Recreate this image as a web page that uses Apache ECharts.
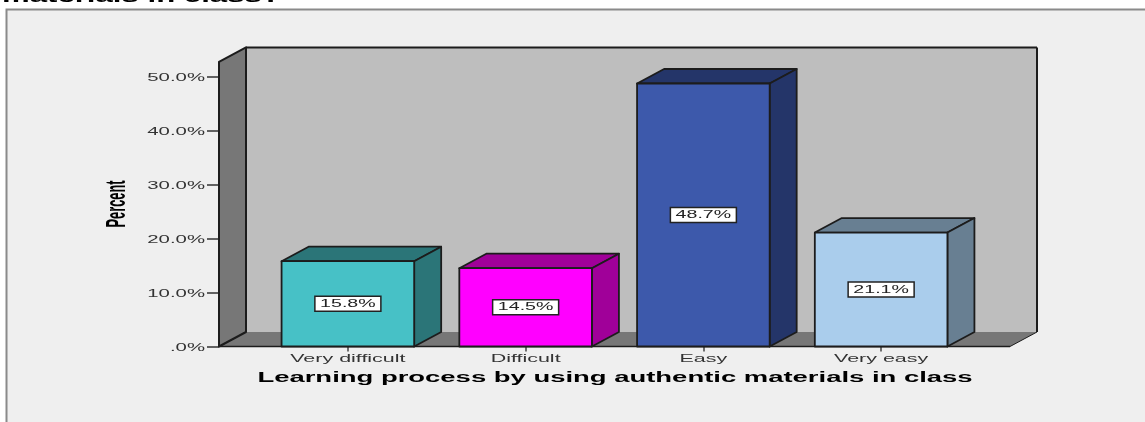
<!DOCTYPE html>
<html>
<head>
<meta charset="utf-8">
<style>html,body{margin:0;padding:0;background:#fff}#c{width:1145px;height:422px}</style>
<script src="https://cdn.jsdelivr.net/npm/echarts@6/dist/echarts.min.js"></script>
</head>
<body>
<div id="c"></div>
<script>
const categories = ['Very difficult', 'Difficult', 'Easy', 'Very easy'];
const percents = [15.8, 14.5, 48.7, 21.1];
const percentLabels = ['15.8%', '14.5%', '48.7%', '21.1%'];
const yTickValues = [0, 10, 20, 30, 40, 50];
const yTickLabels = ['.0%', '10.0%', '20.0%', '30.0%', '40.0%', '50.0%'];
const frontColors = ['#47c1c6', '#ff00ff', '#3d59ab', '#aacdec'];
const sideColors = ['#2b7578', '#a00099', '#243569', '#687f92'];
const chartTitle = 'materials in class?';
const xTitle = 'Learning process by using authentic materials in class';
const yTitle = 'Percent';

const DEPTH_X = 27, DEPTH_Y = 14.5, WALL_TOP = 52.7, WALL_OVERHANG = 40, BAR_RATIO = 0.746;
const EDGE = '#1c1c1c', WALL = '#bebebe', SHADE = '#777777';
const FONT = '11px "Liberation Sans"';
const STRETCH = 1.85, CATEGORY_STRETCH = 1.95, VALUE_STRETCH = 1.78;

function poly(points, fill, lw) {
  return {type: 'polygon', shape: {points}, style: {fill, stroke: lw ? EDGE : null, lineWidth: lw || 0, lineJoin: 'round'}};
}
function seg(a, b, lw) {
  return {type: 'line', shape: {x1: a[0], y1: a[1], x2: b[0], y2: b[1]}, style: {stroke: EDGE, lineWidth: lw || 1.5}};
}
function wideText(text, x, y, align, fill, stretch) {
  return {type: 'text', x, y, scaleX: stretch || STRETCH, style: {text, font: FONT, fill: fill || '#333', align, verticalAlign: 'middle'}};
}
function renderBackdrop(params, api) {
  const cs = params.coordSys;
  const y0 = api.coord([0, 0])[1], yTop = api.coord([0, WALL_TOP])[1];
  const L = cs.x - WALL_OVERHANG, R = cs.x + cs.width + WALL_OVERHANG;
  const bL = L + DEPTH_X, bR = R + DEPTH_X, by0 = y0 - DEPTH_Y, byT = yTop - DEPTH_Y;
  return {type: 'group', children: [
    poly([[bL, byT], [bR, byT], [bR, by0], [bL, by0]], WALL),
    poly([[L, y0], [bL, by0], [bR, by0], [R, y0]], SHADE),
    poly([[L, yTop], [bL, byT], [bL, by0], [L, y0]], SHADE, 2),
    seg([bL, byT], [bR, byT], 2),
    seg([bR, byT], [bR, by0], 2),
    seg([L, y0], [bL, by0], 1),
    seg([bR, by0], [R, y0], 1),
    seg([L, y0], [R, y0], 1.5)
  ]};
}
function renderBar(params, api) {
  const i = api.value(0), top = api.coord([i, api.value(1)]), base = api.coord([i, 0]);
  const w = api.size([1, 0])[0] * BAR_RATIO;
  const l = top[0] - w / 2, r = top[0] + w / 2, t = top[1], b = base[1];
  const dx = DEPTH_X, dy = DEPTH_Y, side = sideColors[i];
  const mid = (t + b) / 2;
  return {type: 'group', children: [
    poly([[l, t], [l + dx, t - dy], [r + dx, t - dy], [r, t]], side, 1.8),
    poly([[r, t], [r + dx, t - dy], [r + dx, b - dy], [r, b]], side, 1.8),
    poly([[l, t], [r, t], [r, b], [l, b]], frontColors[i], 1.8),
    {type: 'rect', shape: {x: top[0] - 33, y: mid - 7.5, width: 66, height: 15},
      style: {fill: '#fff', stroke: '#222', lineWidth: 1.5}},
    wideText(percentLabels[i], top[0], mid, 'center', '#222', VALUE_STRETCH)
  ]};
}
function renderYLabel(params, api) {
  const p = api.coord([0, api.value(0)]);
  const x = params.coordSys.x - WALL_OVERHANG - 14;
  return wideText(yTickLabels[params.dataIndex], x, p[1] + 1.5, 'right');
}
function renderXLabel(params, api) {
  const p = api.coord([api.value(0), 0]);
  return wideText(categories[params.dataIndex], p[0], p[1] + 12, 'center', '#333', CATEGORY_STRETCH);
}

const chart = echarts.init(document.getElementById('c'), null, {renderer: 'canvas'});
chart.setOption({
  animation: false,
  backgroundColor: '#ffffff',
  grid: {left: 259, width: 711, top: 76.5, height: 270},
  xAxis: {
    type: 'category', data: categories,
    axisLine: {show: false}, axisLabel: {show: false},
    axisTick: {show: true, alignWithLabel: true, length: 5, lineStyle: {color: '#444', width: 1.5}},
    splitLine: {show: false}
  },
  yAxis: {
    type: 'value', min: 0, max: 50, interval: 10, offset: 40,
    axisLine: {show: false}, axisLabel: {show: false},
    axisTick: {show: true, length: 12, lineStyle: {color: '#333', width: 1.5}},
    splitLine: {show: false}
  },
  graphic: {elements: [
    {type: 'rect', z: -5, shape: {x: 6.5, y: 9.5, width: 1145, height: 420},
      style: {fill: '#efefef', stroke: '#8a8a8a', lineWidth: 2}},
    {type: 'text', x: 2, y: 6, scaleX: 1.64, style: {text: chartTitle, font: 'bold 19px "Liberation Sans"', fill: '#000', align: 'left', verticalAlign: 'bottom'}, z: 5},
    {type: 'text', x: 615, y: 378.5, scaleX: 1.96, style: {text: xTitle, font: 'bold 14px "Liberation Sans"', fill: '#000', align: 'center', verticalAlign: 'middle'}, z: 5},
    {type: 'text', x: 117, y: 204, rotation: Math.PI / 2, scaleX: 0.46, style: {text: yTitle, font: 'bold 28px "Liberation Sans"', fill: '#000', align: 'center', verticalAlign: 'middle'}, z: 5}
  ]},
  series: [
    {type: 'custom', name: 'backdrop', coordinateSystem: 'cartesian2d', clip: false, z: 1, silent: true,
      data: [[0, 0]], renderItem: renderBackdrop},
    {type: 'custom', name: 'Percent', coordinateSystem: 'cartesian2d', clip: false, z: 2, silent: true,
      data: percents.map((v, i) => [i, v]), renderItem: renderBar},
    {type: 'custom', name: 'y labels', coordinateSystem: 'cartesian2d', clip: false, z: 3, silent: true,
      data: yTickValues.map(v => [v]), encode: {y: 0}, renderItem: renderYLabel},
    {type: 'custom', name: 'x labels', coordinateSystem: 'cartesian2d', clip: false, z: 3, silent: true,
      data: categories.map((c, i) => [i]), encode: {x: 0}, renderItem: renderXLabel}
  ]
});
</script>
</body>
</html>
